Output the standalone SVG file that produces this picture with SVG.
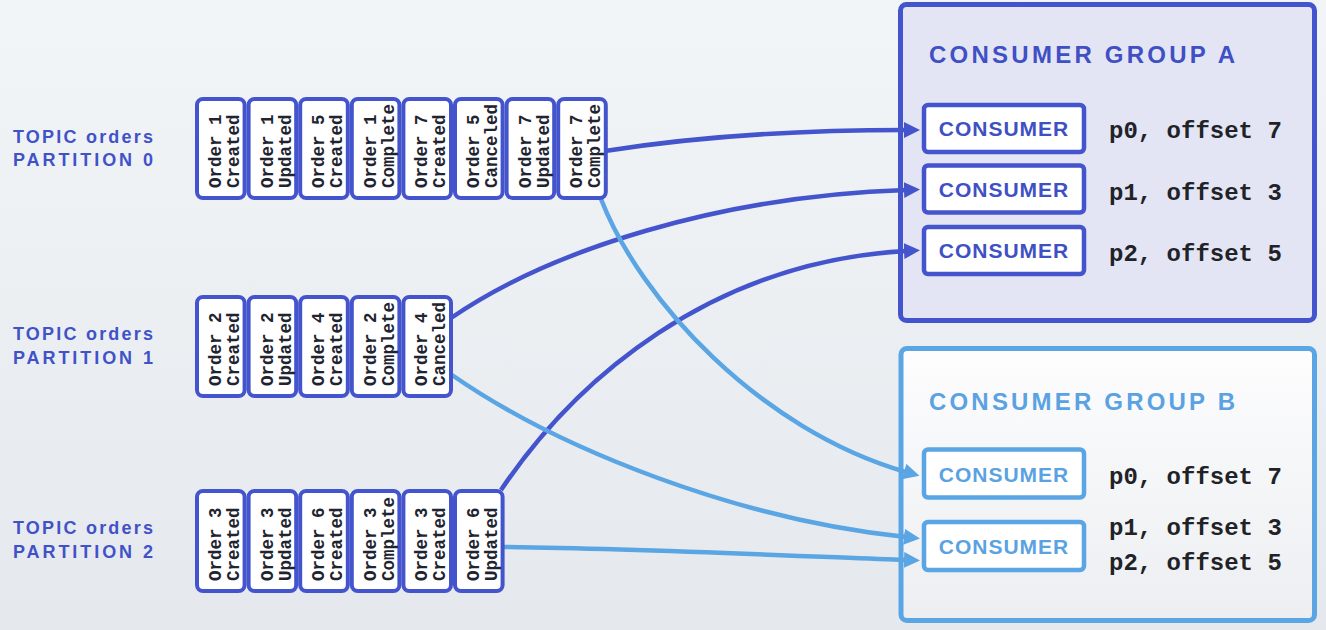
<svg xmlns="http://www.w3.org/2000/svg" width="1326" height="630" viewBox="0 0 1326 630">
<defs>
<linearGradient id="bg" x1="0" y1="0" x2="0" y2="1"><stop offset="0" stop-color="#f1f5f8"/><stop offset="1" stop-color="#e5e9ed"/></linearGradient>
<linearGradient id="gb" x1="0" y1="0" x2="0" y2="1"><stop offset="0" stop-color="#fdfdfe"/><stop offset="1" stop-color="#eceef1"/></linearGradient>
<marker id="ad" markerUnits="userSpaceOnUse" markerWidth="18" markerHeight="18" refX="2" refY="8" orient="auto"><path d="M0,0 L16,8 L0,16 z" fill="#4454cc"/></marker>
<marker id="al" markerUnits="userSpaceOnUse" markerWidth="18" markerHeight="18" refX="2" refY="8" orient="auto"><path d="M0,0 L16,8 L0,16 z" fill="#5aa5e3"/></marker>
</defs>
<style>
.cell{fill:#ffffff;stroke:#4454cc;stroke-width:4}
.ct{font-family:"Liberation Mono",monospace;font-weight:bold;font-size:17.5px;fill:#1e2430}
.lbl{font-family:"Liberation Sans",Arial,sans-serif;font-weight:bold;font-size:18px;fill:#4152c8}
.cd{stroke:#4454cc;stroke-width:4.5;fill:none;marker-end:url(#ad)}
.cl{stroke:#5aa5e3;stroke-width:4.5;fill:none;marker-end:url(#al)}
.cbA{fill:#ffffff;stroke:#4454cc;stroke-width:4.5}
.cbB{fill:#ffffff;stroke:#5aa5e3;stroke-width:4.5}
.cA{font-family:"Liberation Sans",Arial,sans-serif;font-weight:bold;font-size:21px;fill:#3f50c4;letter-spacing:1px}
.cB{font-family:"Liberation Sans",Arial,sans-serif;font-weight:bold;font-size:21px;fill:#5aa2e2;letter-spacing:1px}
.off{font-family:"Liberation Mono",monospace;font-weight:bold;font-size:24px;fill:#1f2328}
.gt{font-family:"Liberation Sans",Arial,sans-serif;font-weight:bold;font-size:24px}
</style>
<rect x="0" y="0" width="1326" height="630" fill="url(#bg)"/>

<g id="groupA">
<rect x="900.5" y="4.5" width="414" height="316" rx="6" fill="#e3e5f4" stroke="#4454cc" stroke-width="5"/>
<text class="gt" x="929" y="63" fill="#3f50c4" textLength="306" lengthAdjust="spacing">CONSUMER GROUP A</text>
</g>
<g id="groupB">
<rect x="901" y="348.5" width="413.5" height="272" rx="6" fill="url(#gb)" stroke="#5aa5e3" stroke-width="5"/>
<text class="gt" x="929" y="410" fill="#5aa2e2" textLength="306" lengthAdjust="spacing">CONSUMER GROUP B</text>
</g>

<g id="connectors">
<path class="cd" d="M605,151 C700,136 800,130 906,130"/>
<path class="cd" d="M451,318 C550,250 720,196 906,190"/>
<path class="cd" d="M501,490 C575,380 710,262 906,251"/>
<path class="cl" d="M601,199 C640,300 760,430 906,472"/>
<path class="cl" d="M452,375 C560,450 740,520 906,537"/>
<path class="cl" d="M502,547 C650,549 800,556 906,560"/>
</g>

<g id="partition0">
<text class="lbl" x="13" y="143" textLength="140" lengthAdjust="spacing">TOPIC orders</text>
<text class="lbl" x="13" y="166" textLength="140" lengthAdjust="spacing">PARTITION 0</text>
<rect class="cell" x="197" y="99" width="47.6" height="99" rx="6"/>
<rect class="cell" x="248.6" y="99" width="47.6" height="99" rx="6"/>
<rect class="cell" x="300.2" y="99" width="47.6" height="99" rx="6"/>
<rect class="cell" x="351.8" y="99" width="47.6" height="99" rx="6"/>
<rect class="cell" x="403.4" y="99" width="47.6" height="99" rx="6"/>
<rect class="cell" x="455" y="99" width="47.6" height="99" rx="6"/>
<rect class="cell" x="506.6" y="99" width="47.6" height="99" rx="6"/>
<rect class="cell" x="558.2" y="99" width="47.6" height="99" rx="6"/>
<text class="ct" transform="translate(221,188) rotate(-90)"><tspan x="0" y="0">Order 1</tspan><tspan x="0" y="18">Created</tspan></text>
<text class="ct" transform="translate(272.6,188) rotate(-90)"><tspan x="0" y="0">Order 1</tspan><tspan x="0" y="18">Updated</tspan></text>
<text class="ct" transform="translate(324.2,188) rotate(-90)"><tspan x="0" y="0">Order 5</tspan><tspan x="0" y="18">Created</tspan></text>
<text class="ct" transform="translate(375.8,188) rotate(-90)"><tspan x="0" y="0">Order 1</tspan><tspan x="0" y="18">Complete</tspan></text>
<text class="ct" transform="translate(427.4,188) rotate(-90)"><tspan x="0" y="0">Order 7</tspan><tspan x="0" y="18">Created</tspan></text>
<text class="ct" transform="translate(479,188) rotate(-90)"><tspan x="0" y="0">Order 5</tspan><tspan x="0" y="18">Canceled</tspan></text>
<text class="ct" transform="translate(530.6,188) rotate(-90)"><tspan x="0" y="0">Order 7</tspan><tspan x="0" y="18">Updated</tspan></text>
<text class="ct" transform="translate(582.2,188) rotate(-90)"><tspan x="0" y="0">Order 7</tspan><tspan x="0" y="18">Complete</tspan></text>
</g>

<g id="partition1">
<text class="lbl" x="13" y="340" textLength="140" lengthAdjust="spacing">TOPIC orders</text>
<text class="lbl" x="13" y="364" textLength="140" lengthAdjust="spacing">PARTITION 1</text>
<rect class="cell" x="197" y="297" width="47.6" height="99" rx="6"/>
<rect class="cell" x="248.6" y="297" width="47.6" height="99" rx="6"/>
<rect class="cell" x="300.2" y="297" width="47.6" height="99" rx="6"/>
<rect class="cell" x="351.8" y="297" width="47.6" height="99" rx="6"/>
<rect class="cell" x="403.4" y="297" width="47.6" height="99" rx="6"/>
<text class="ct" transform="translate(221,386) rotate(-90)"><tspan x="0" y="0">Order 2</tspan><tspan x="0" y="18">Created</tspan></text>
<text class="ct" transform="translate(272.6,386) rotate(-90)"><tspan x="0" y="0">Order 2</tspan><tspan x="0" y="18">Updated</tspan></text>
<text class="ct" transform="translate(324.2,386) rotate(-90)"><tspan x="0" y="0">Order 4</tspan><tspan x="0" y="18">Created</tspan></text>
<text class="ct" transform="translate(375.8,386) rotate(-90)"><tspan x="0" y="0">Order 2</tspan><tspan x="0" y="18">Complete</tspan></text>
<text class="ct" transform="translate(427.4,386) rotate(-90)"><tspan x="0" y="0">Order 4</tspan><tspan x="0" y="18">Canceled</tspan></text>
</g>

<g id="partition2">
<text class="lbl" x="13" y="534" textLength="140" lengthAdjust="spacing">TOPIC orders</text>
<text class="lbl" x="13" y="558" textLength="140" lengthAdjust="spacing">PARTITION 2</text>
<rect class="cell" x="197" y="491" width="47.6" height="100" rx="6"/>
<rect class="cell" x="248.6" y="491" width="47.6" height="100" rx="6"/>
<rect class="cell" x="300.2" y="491" width="47.6" height="100" rx="6"/>
<rect class="cell" x="351.8" y="491" width="47.6" height="100" rx="6"/>
<rect class="cell" x="403.4" y="491" width="47.6" height="100" rx="6"/>
<rect class="cell" x="455" y="491" width="47.6" height="100" rx="6"/>
<text class="ct" transform="translate(221,581) rotate(-90)"><tspan x="0" y="0">Order 3</tspan><tspan x="0" y="18">Created</tspan></text>
<text class="ct" transform="translate(272.6,581) rotate(-90)"><tspan x="0" y="0">Order 3</tspan><tspan x="0" y="18">Updated</tspan></text>
<text class="ct" transform="translate(324.2,581) rotate(-90)"><tspan x="0" y="0">Order 6</tspan><tspan x="0" y="18">Created</tspan></text>
<text class="ct" transform="translate(375.8,581) rotate(-90)"><tspan x="0" y="0">Order 3</tspan><tspan x="0" y="18">Complete</tspan></text>
<text class="ct" transform="translate(427.4,581) rotate(-90)"><tspan x="0" y="0">Order 3</tspan><tspan x="0" y="18">Created</tspan></text>
<text class="ct" transform="translate(479,581) rotate(-90)"><tspan x="0" y="0">Order 6</tspan><tspan x="0" y="18">Updated</tspan></text>
</g>

<g id="consumerA1">
<rect class="cbA" x="924" y="105" width="160" height="47" rx="4"/>
<text class="cA" x="1004" y="136" text-anchor="middle">CONSUMER</text>
<text class="off" x="1109" y="138">p0, offset 7</text>
</g>
<g id="consumerA2">
<rect class="cbA" x="924" y="165.5" width="160" height="47" rx="4"/>
<text class="cA" x="1004" y="197" text-anchor="middle">CONSUMER</text>
<text class="off" x="1109" y="200">p1, offset 3</text>
</g>
<g id="consumerA3">
<rect class="cbA" x="924" y="227" width="160" height="47" rx="4"/>
<text class="cA" x="1004" y="258" text-anchor="middle">CONSUMER</text>
<text class="off" x="1109" y="261">p2, offset 5</text>
</g>
<g id="consumerB1">
<rect class="cbB" x="924" y="449.5" width="160" height="48" rx="4"/>
<text class="cB" x="1004" y="482" text-anchor="middle">CONSUMER</text>
<text class="off" x="1109" y="484">p0, offset 7</text>
</g>
<g id="consumerB2">
<rect class="cbB" x="924" y="522" width="160" height="48" rx="4"/>
<text class="cB" x="1004" y="554" text-anchor="middle">CONSUMER</text>
<text class="off" x="1109" y="535">p1, offset 3</text>
<text class="off" x="1109" y="570">p2, offset 5</text>
</g>
</svg>
